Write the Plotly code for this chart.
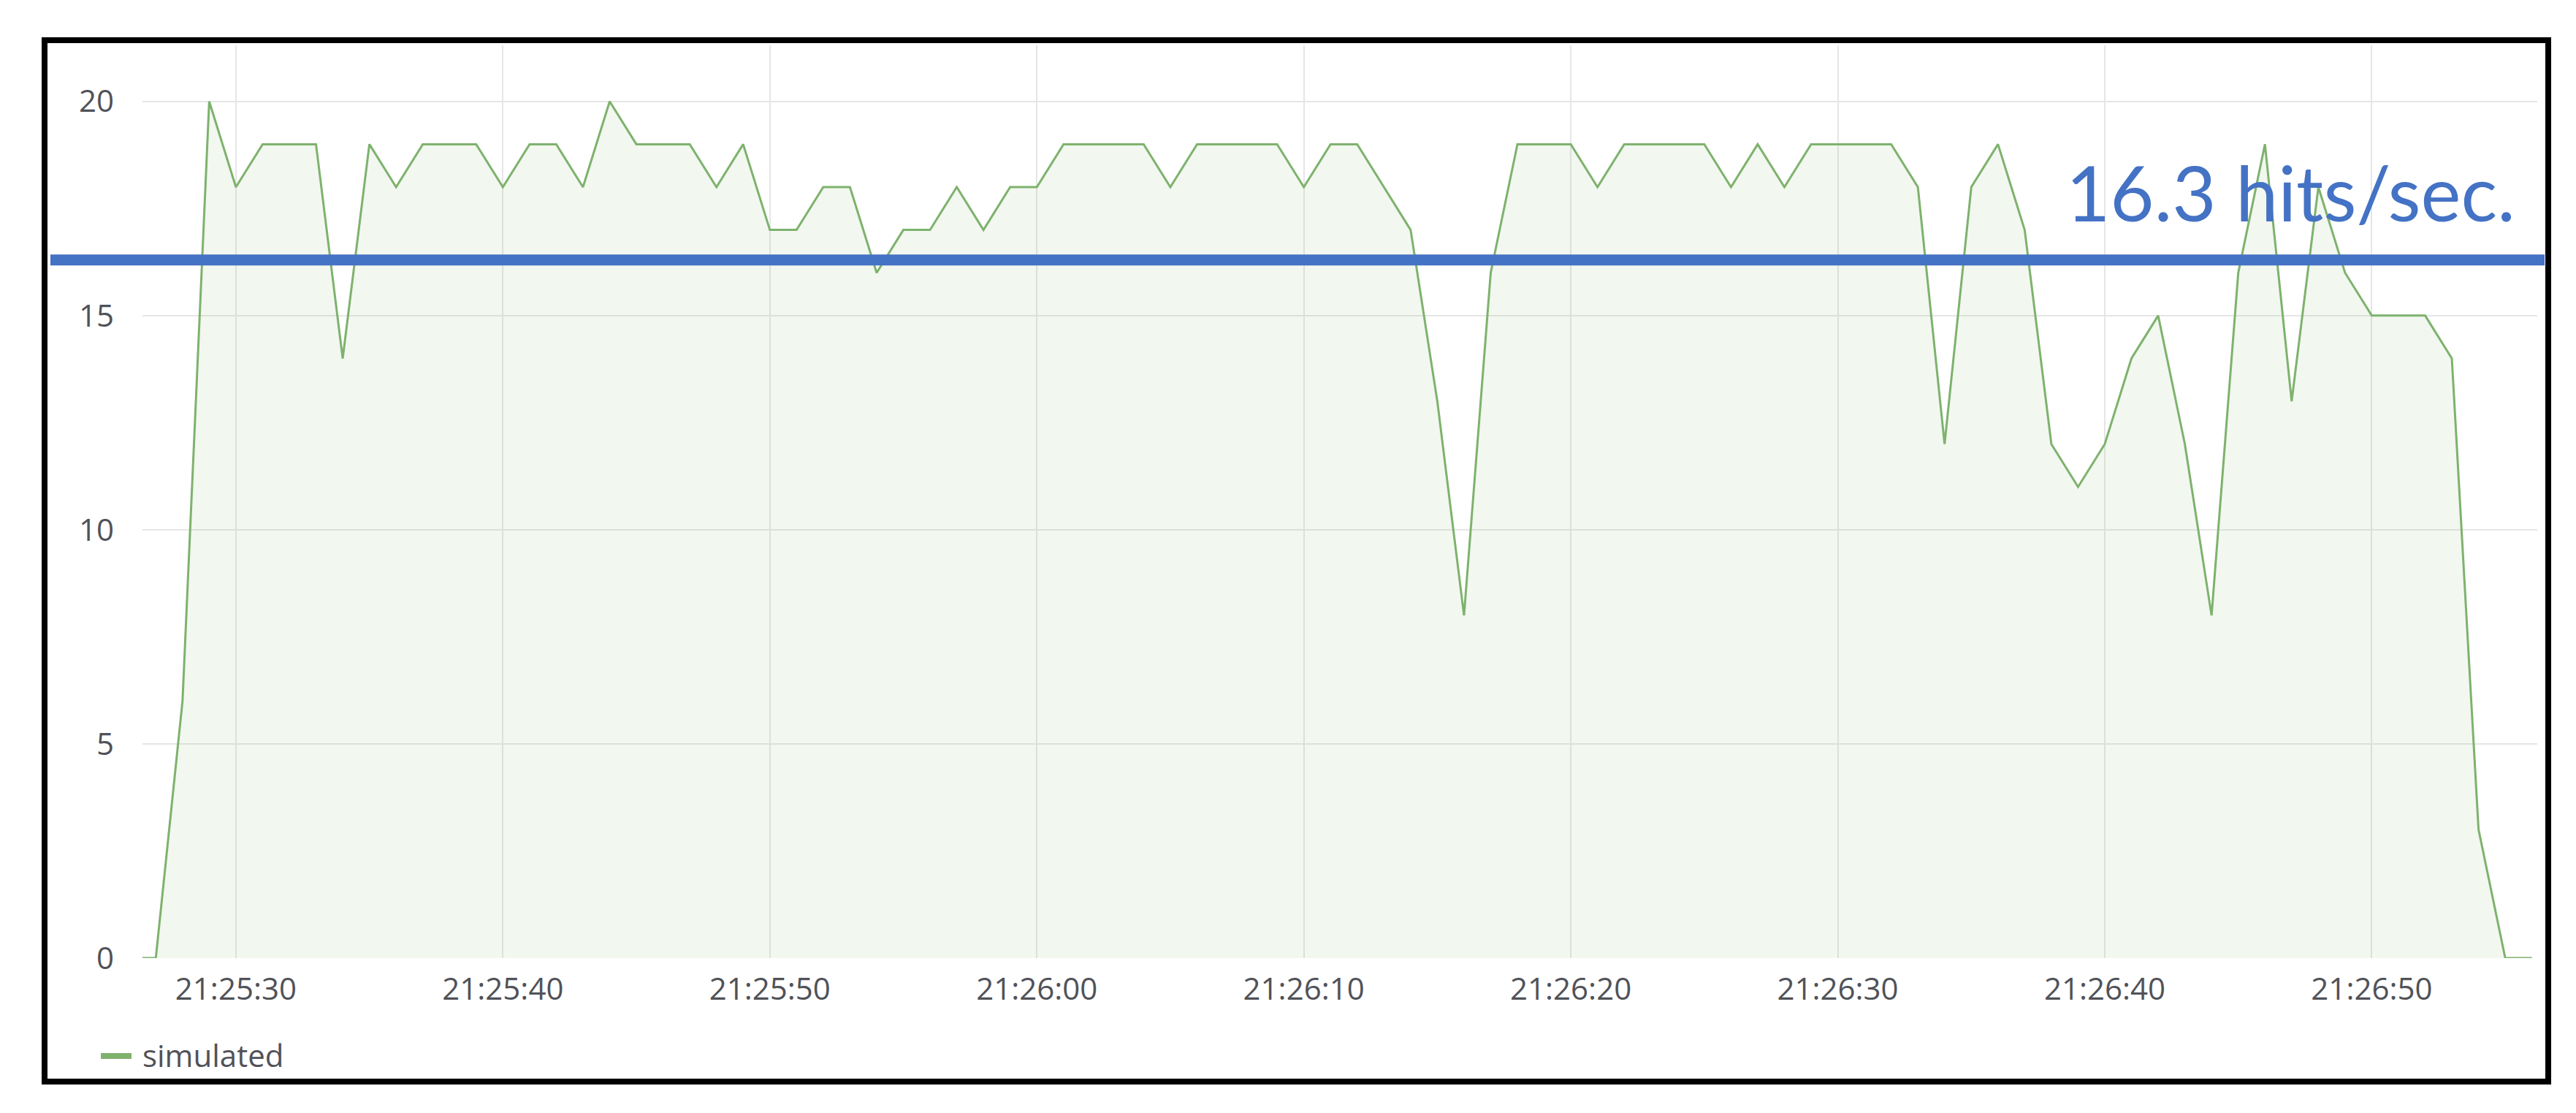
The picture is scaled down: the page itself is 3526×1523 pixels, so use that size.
import plotly.graph_objects as go
import pandas as pd

# ─── Data (hits per second, one sample per second from 21:25:26) ───
START = "2019-03-01 21:25:26"
HITS = [
    0, 0, 6, 20, 18, 19, 19, 19, 14, 19,      # 21:25:26 - 21:25:35
    18, 19, 19, 19, 18, 19, 19, 18, 20, 19,   # 21:25:36 - 21:25:45
    19, 19, 18, 19, 17, 17, 18, 18, 16, 17,   # 21:25:46 - 21:25:55
    17, 18, 17, 18, 18, 19, 19, 19, 19, 18,   # 21:25:56 - 21:26:05
    19, 19, 19, 19, 18, 19, 19, 18, 17, 13,   # 21:26:06 - 21:26:15
    8, 16, 19, 19, 19, 18, 19, 19, 19, 19,    # 21:26:16 - 21:26:25
    18, 19, 18, 19, 19, 19, 19, 18, 12, 18,   # 21:26:26 - 21:26:35
    19, 17, 12, 11, 12, 14, 15, 12, 8, 16,    # 21:26:36 - 21:26:45
    19, 13, 18, 16, 15, 15, 15, 14, 3, 0,     # 21:26:46 - 21:26:55
    0,                                        # 21:26:56
]
SERIES_NAME = "simulated"
AVG_HITS = 16.3
AVG_LABEL = f"{AVG_HITS} hits/sec."

X_RANGE = ["2019-03-01 21:25:26.5", "2019-03-01 21:26:56.2"]
X_TICK0 = "2019-03-01 21:25:30"
Y_RANGE = [0, 21.31]
Y_TICKS = [0, 5, 10, 15, 20]

# ─── Colors ───
COLORS = {
    "line":  "#7eb26d",
    "fill":  "rgba(126,178,109,0.10)",
    "grid":  "#e6e6e6",
    "text":  "#505258",
    "blue":  "#4472c4",
    "frame": "#000000",
}

# page is 3526x1523, the html body adds an 8px margin around the figure
BODY = 8
W, H = 3526 - 2 * BODY, 1523 - 2 * BODY
PW, PH = 3278, 1249
M_L, M_T = 195 - BODY, 62 - BODY
M_R, M_B = W - M_L - PW, H - M_T - PH


def px_x(x):
    """page pixel x -> paper x"""
    return (x - BODY - M_L) / PW


def px_y(y):
    """page pixel y (from top) -> paper y"""
    return (M_T + PH - (y - BODY)) / PH


times = pd.date_range(START, periods=len(HITS), freq="s")

fig = go.Figure()
fig.add_trace(go.Scatter(
    x=times, y=HITS, mode="lines", name=SERIES_NAME,
    line=dict(color=COLORS["line"], width=3),
    fill="tozeroy", fillcolor=COLORS["fill"],
    showlegend=False,
))

# ── average line + label ──
fig.add_shape(type="line", xref="paper", yref="y",
              x0=px_x(69), x1=px_x(3483), y0=AVG_HITS, y1=AVG_HITS,
              line=dict(color=COLORS["blue"], width=15), layer="above")
fig.add_annotation(text=AVG_LABEL, xref="paper", yref="paper",
                   x=px_x(2826), y=px_y(262), xanchor="left", yanchor="middle",
                   showarrow=False,
                   font=dict(family="Lato", size=104, color=COLORS["blue"]))

# ── legend (manual, Grafana style) ──
fig.add_shape(type="line", xref="paper", yref="paper",
              x0=px_x(138), x1=px_x(180), y0=px_y(1445), y1=px_y(1445),
              line=dict(color=COLORS["line"], width=8), layer="above")
fig.add_annotation(text=SERIES_NAME, xref="paper", yref="paper",
                   x=px_x(193), y=px_y(1443), xanchor="left", yanchor="middle",
                   showarrow=False,
                   font=dict(family="Open Sans", size=42, color=COLORS["text"]))

# ── screenshot frame ──
fig.add_shape(type="rect", xref="paper", yref="paper",
              x0=px_x(61), x1=px_x(3488), y0=px_y(1480), y1=px_y(55),
              line=dict(color=COLORS["frame"], width=8), layer="above")

fig.update_layout(
    width=W, height=H,
    paper_bgcolor="white", plot_bgcolor="white",
    margin=dict(l=M_L, r=M_R, t=M_T, b=M_B),
    font=dict(family="Open Sans", size=42, color=COLORS["text"]),
    showlegend=False,
    xaxis=dict(
        type="date", range=X_RANGE, tick0=X_TICK0, dtick=10000,
        tickformat="%H:%M:%S", showgrid=True, gridcolor=COLORS["grid"],
        gridwidth=2, zeroline=False, showline=False, ticks="",
        ticklabelstandoff=14,
    ),
    yaxis=dict(
        range=Y_RANGE, tickvals=Y_TICKS, showgrid=True,
        gridcolor=COLORS["grid"], gridwidth=2, zeroline=False,
        showline=False, ticks="", ticklabelstandoff=38,
    ),
)

fig.write_html("out.html")
